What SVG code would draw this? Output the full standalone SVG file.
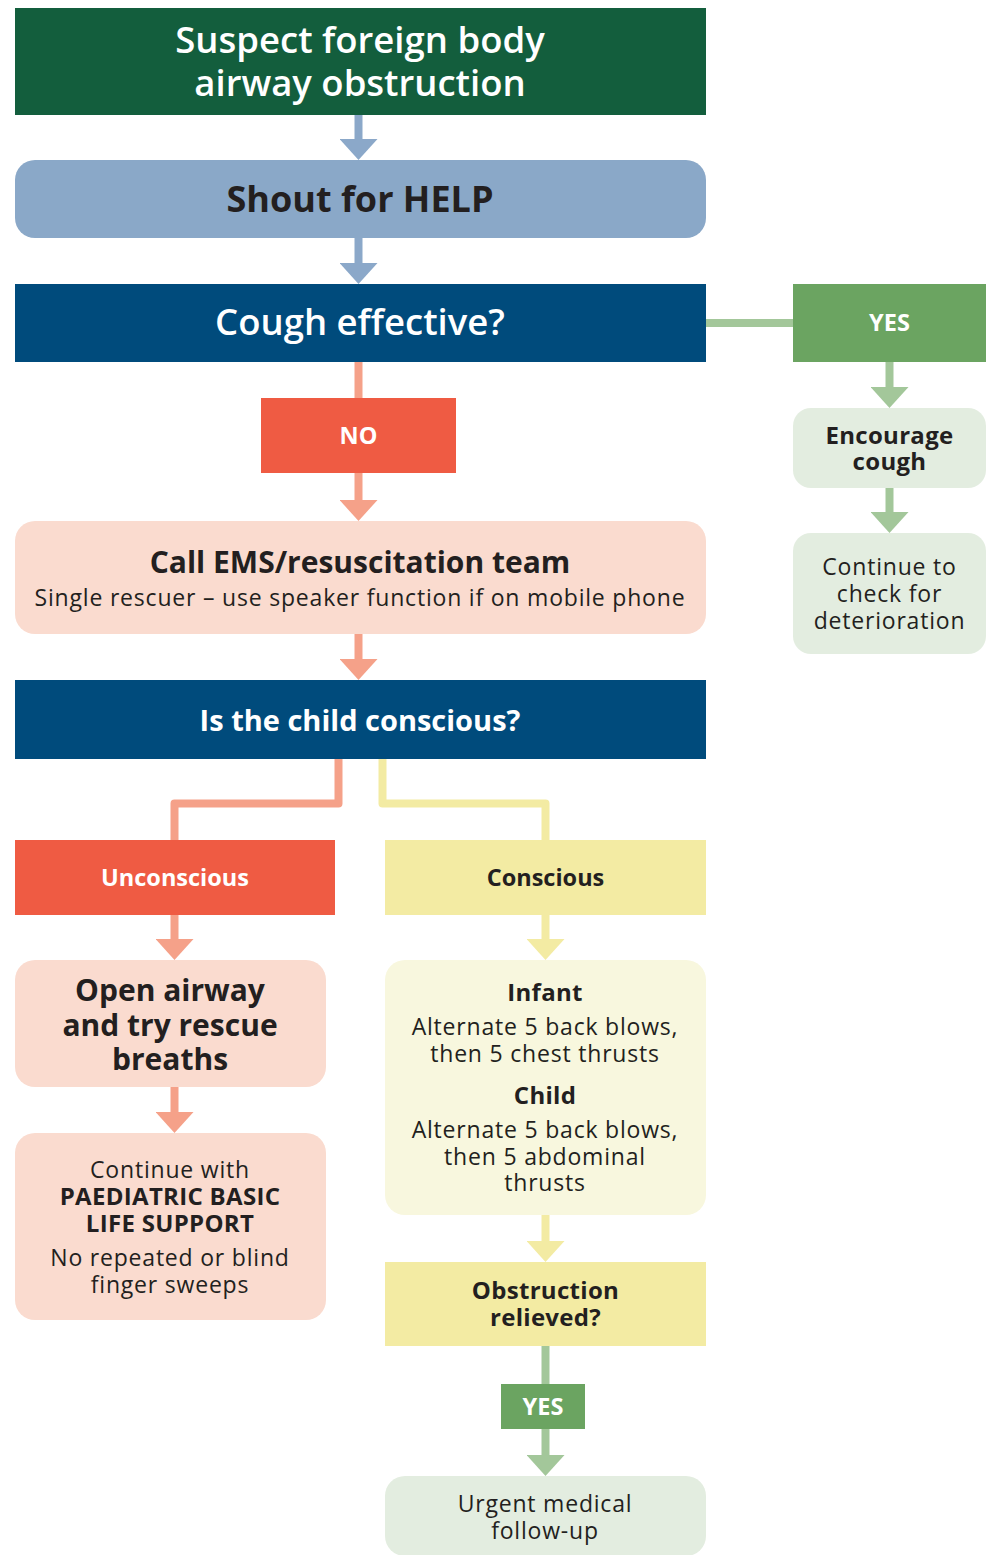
<svg xmlns="http://www.w3.org/2000/svg" width="986" height="1555" viewBox="0 0 986 1555">
<style>
text{font-family:"Open Sans","Liberation Sans",sans-serif;text-anchor:middle;fill:#231F20}
.w{fill:#fff}
.b{font-weight:700}
.sb{font-weight:600}
.r{font-weight:400;font-size:23px;letter-spacing:0.8px}
.bs{font-weight:700;font-size:24px;letter-spacing:0.3px}
.lbl{font-weight:700;font-size:23.5px}
.c{fill:none;stroke-width:8;stroke-linejoin:round}
</style>
<defs>
<marker id="hBlue" markerUnits="userSpaceOnUse" markerWidth="21" markerHeight="38" viewBox="0 0 21 38" refX="0" refY="19" orient="auto"><path d="M0,0 L21,19 L0,38 Z" fill="#8BA8C9"/></marker>
<marker id="hSal" markerUnits="userSpaceOnUse" markerWidth="21" markerHeight="38" viewBox="0 0 21 38" refX="0" refY="19" orient="auto"><path d="M0,0 L21,19 L0,38 Z" fill="#F5A189"/></marker>
<marker id="hGrn" markerUnits="userSpaceOnUse" markerWidth="21" markerHeight="38" viewBox="0 0 21 38" refX="0" refY="19" orient="auto"><path d="M0,0 L21,19 L0,38 Z" fill="#A3C79A"/></marker>
<marker id="hYel" markerUnits="userSpaceOnUse" markerWidth="21" markerHeight="38" viewBox="0 0 21 38" refX="0" refY="19" orient="auto"><path d="M0,0 L21,19 L0,38 Z" fill="#F3EBA3"/></marker>
</defs>
<rect width="986" height="1555" fill="#fff"/>
<g id="connectors">
<path class="c" stroke="#8BA8C9" d="M358.5,115 V139" marker-end="url(#hBlue)"/>
<path class="c" stroke="#8BA8C9" d="M358.5,238 V263" marker-end="url(#hBlue)"/>
<path class="c" stroke="#F5A189" d="M358.5,362 V398"/>
<path class="c" stroke="#F5A189" d="M358.5,473 V500" marker-end="url(#hSal)"/>
<path class="c" stroke="#F5A189" d="M358.5,634 V659" marker-end="url(#hSal)"/>
<path class="c" stroke="#A3C79A" d="M706,323 H793"/>
<path class="c" stroke="#A3C79A" d="M889.5,362 V387" marker-end="url(#hGrn)"/>
<path class="c" stroke="#A3C79A" d="M889.5,488 V512" marker-end="url(#hGrn)"/>
<path class="c" stroke="#F5A189" d="M338.5,759 V803.5 H174.5 V840"/>
<path class="c" stroke="#F3EBA3" d="M382.5,759 V803.5 H545.5 V840"/>
<path class="c" stroke="#F5A189" d="M174.5,915 V939" marker-end="url(#hSal)"/>
<path class="c" stroke="#F5A189" d="M174.5,1087 V1112" marker-end="url(#hSal)"/>
<path class="c" stroke="#F3EBA3" d="M545.5,915 V939" marker-end="url(#hYel)"/>
<path class="c" stroke="#F3EBA3" d="M545.5,1215 V1241" marker-end="url(#hYel)"/>
<path class="c" stroke="#A3C79A" d="M545.5,1346 V1384"/>
<path class="c" stroke="#A3C79A" d="M545.5,1429 V1455" marker-end="url(#hGrn)"/>
</g>
<g id="n-suspect">
<rect x="15" y="8" width="691" height="107" fill="#135E3D"/>
<text class="w sb" x="360" y="53" font-size="36.5">Suspect foreign body</text>
<text class="w sb" x="360" y="96" font-size="36.5">airway obstruction</text>
</g>
<g id="n-help">
<rect x="15" y="160" width="691" height="78" rx="20" fill="#8AA8C8"/>
<text class="b" x="360" y="212" font-size="36">Shout for HELP</text>
</g>
<g id="n-cough">
<rect x="15" y="284" width="691" height="78" fill="#004B7C"/>
<text class="w sb" x="360" y="335" font-size="36.5">Cough effective?</text>
</g>
<g id="n-yes1">
<rect x="793" y="284" width="193" height="78" fill="#6BA461"/>
<text class="w lbl" x="889.5" y="331">YES</text>
</g>
<g id="n-encourage">
<rect x="793" y="408" width="193" height="80" rx="18" fill="#E3EDE0"/>
<text class="bs" x="889.5" y="444">Encourage</text>
<text class="bs" x="889.5" y="470">cough</text>
</g>
<g id="n-continue-check">
<rect x="793" y="533" width="193" height="121" rx="18" fill="#E3EDE0"/>
<text class="r" x="889.5" y="575">Continue to</text>
<text class="r" x="889.5" y="602">check for</text>
<text class="r" x="889.5" y="629">deterioration</text>
</g>
<g id="n-no">
<rect x="261" y="398" width="195" height="75" fill="#EF5B43"/>
<text class="w lbl" x="358.5" y="444">NO</text>
</g>
<g id="n-ems">
<rect x="15" y="521" width="691" height="113" rx="20" fill="#FADBCF"/>
<text class="b" x="360" y="573" font-size="30">Call EMS/resuscitation team</text>
<text class="r" x="360" y="606">Single rescuer – use speaker function if on mobile phone</text>
</g>
<g id="n-conscious-q">
<rect x="15" y="680" width="691" height="79" fill="#004B7C"/>
<text class="w b" x="360" y="731" font-size="29">Is the child conscious?</text>
</g>
<g id="n-unconscious">
<rect x="15" y="840" width="320" height="75" fill="#EF5B43"/>
<text class="w lbl" x="175" y="886">Unconscious</text>
</g>
<g id="n-conscious">
<rect x="385" y="840" width="321" height="75" fill="#F3EBA3"/>
<text class="lbl" x="545.5" y="886">Conscious</text>
</g>
<g id="n-open-airway">
<rect x="15" y="960" width="311" height="127" rx="20" fill="#FADBCF"/>
<text class="b" x="170" y="1001" font-size="30">Open airway</text>
<text class="b" x="170" y="1036" font-size="30">and try rescue</text>
<text class="b" x="170" y="1070" font-size="30">breaths</text>
</g>
<g id="n-pbls">
<rect x="15" y="1133" width="311" height="187" rx="20" fill="#FADBCF"/>
<text class="r" x="170" y="1178">Continue with</text>
<text class="bs" x="170" y="1205">PAEDIATRIC BASIC</text>
<text class="bs" x="170" y="1232">LIFE SUPPORT</text>
<text class="r" x="170" y="1266">No repeated or blind</text>
<text class="r" x="170" y="1293">finger sweeps</text>
</g>
<g id="n-infant-child">
<rect x="385" y="960" width="321" height="255" rx="20" fill="#F8F7DE"/>
<text class="bs" x="545" y="1001">Infant</text>
<text class="r" x="545" y="1035">Alternate 5 back blows,</text>
<text class="r" x="545" y="1062">then 5 chest thrusts</text>
<text class="bs" x="545" y="1104">Child</text>
<text class="r" x="545" y="1138">Alternate 5 back blows,</text>
<text class="r" x="545" y="1165">then 5 abdominal</text>
<text class="r" x="545" y="1191">thrusts</text>
</g>
<g id="n-relieved">
<rect x="385" y="1262" width="321" height="84" fill="#F3EBA3"/>
<text class="bs" x="545.5" y="1299">Obstruction</text>
<text class="bs" x="545.5" y="1326">relieved?</text>
</g>
<g id="n-yes2">
<rect x="501" y="1384" width="84" height="45" fill="#6BA461"/>
<text class="w lbl" x="543" y="1415">YES</text>
</g>
<g id="n-followup">
<rect x="385" y="1476" width="321" height="80" rx="20" fill="#E3EDE0"/>
<text class="r" x="545" y="1512">Urgent medical</text>
<text class="r" x="545" y="1539">follow-up</text>
</g>
</svg>
